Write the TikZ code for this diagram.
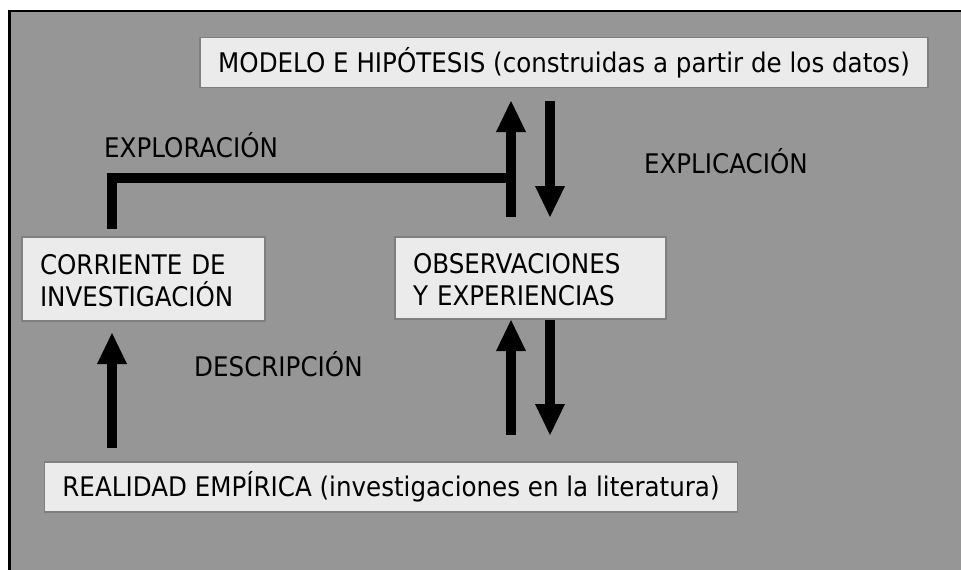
\documentclass[tikz,border=0pt]{standalone}
\usepackage{fontspec}
\setmainfont{DejaVu Sans}[FakeStretch=0.91]
\usetikzlibrary{arrows.meta}
\definecolor{bggray}{HTML}{969696}
\definecolor{boxfill}{HTML}{EBEBEB}
\definecolor{boxline}{HTML}{7F7F7F}
\begin{document}
\begin{tikzpicture}[x=1pt,y=-1pt,
  txt/.style={font=\fontsize{27}{32}\selectfont},
  box/.style={txt,draw=boxline,line width=1.5pt,fill=boxfill,inner ysep=0pt,inner xsep=18pt,text height=19.7pt,text depth=0pt},
  lbl/.style={txt,inner sep=0pt},
  arr/.style={line width=10pt,-{Triangle[width=30pt,length=31pt,line width=0pt]}},
  thk/.style={line width=10pt}]
\useasboundingbox (0,0) rectangle (961,570);
\clip (0,0) rectangle (961,570);
\fill[white] (0,0) rectangle (961,570);
\draw[line width=2.6pt,fill=bggray] (9.5,11) rectangle (990,600);

% boxes
\node[box,minimum width=724pt,minimum height=50pt] (modelo) at (564,62.5) {MODELO E HIPÓTESIS (construidas a partir de los datos)};
\node[box,minimum width=243pt,minimum height=84pt,text width=207pt,align=left,text depth=29pt] (corr) at (143.5,279) {CORRIENTE DE\\INVESTIGACIÓN};
\node[box,minimum width=271pt,minimum height=82pt,text width=235pt,align=left,text depth=29pt] (obs) at (530.5,278) {OBSERVACIONES\\Y EXPERIENCIAS};
\node[box,minimum width=686pt,minimum height=50pt] (real) at (391,487) {REALIDAD EMPÍRICA (investigaciones en la literatura)};

% labels
\node[lbl,anchor=base west] (lexp) at (104,157) {EXPLORACIÓN};
\node[lbl,anchor=base east] (lexpl) at (808,173) {EXPLICACIÓN};
\node[lbl,anchor=base west] (ldesc) at (194,376) {DESCRIPCIÓN};

% connector end points
\coordinate (ex0) at (112,229);
\coordinate (ex1) at (112,178);
\coordinate (ex2) at (511,178);
\coordinate (u1s) at (511,217);
\coordinate (u1e) at (511,101);
\coordinate (d1s) at (550,101);
\coordinate (d1e) at (550,217);
\coordinate (u2s) at (511,435);
\coordinate (u2e) at (511,320);
\coordinate (d2s) at (550,320);
\coordinate (d2e) at (550,435);
\coordinate (u3s) at (112,448);
\coordinate (u3e) at (112,333);

% connectors
\draw[thk] (ex0) -- (ex1) -- (ex2);
\draw[arr] (u1s) -- (u1e);
\draw[arr] (d1s) -- (d1e);
\draw[arr] (u2s) -- (u2e);
\draw[arr] (d2s) -- (d2e);
\draw[arr] (u3s) -- (u3e);
\end{tikzpicture}
\end{document}
